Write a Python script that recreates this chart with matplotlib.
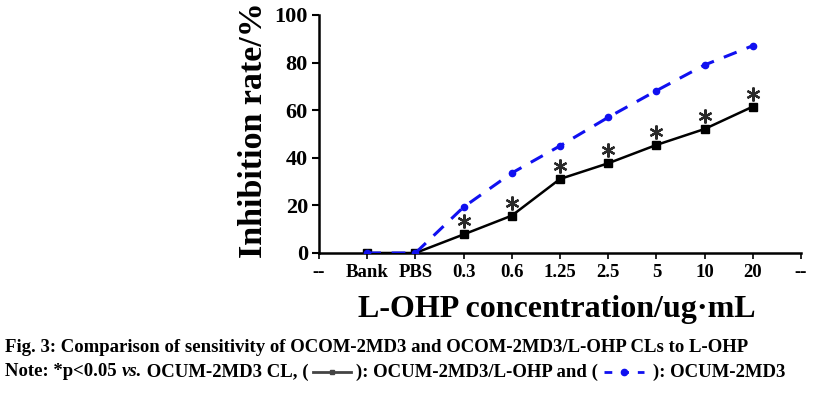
import matplotlib
matplotlib.use('Agg')
import matplotlib.pyplot as plt
from matplotlib.lines import Line2D

# categories along the x axis (first and last are the "--" end labels)
categories = ['--', 'Bank', 'PBS', '0.3', '0.6', '1.25', '2.5', '5', '10', '20', '--']
# inhibition rate (%) for Bank .. 20
combo_vals = [0, 0, 7.8, 15.7, 31.1, 37.7, 45.4, 52.1, 61.5]     # OCUM-2MD3/L-OHP
parent_vals = [0, 0, 19.3, 33.6, 45.0, 57.0, 68.2, 79.0, 87.1]    # OCUM-2MD3
star_from = 2  # asterisks start at 0.3

plt.rcParams['font.family'] = ['Liberation Serif', 'DejaVu Serif']
plt.rcParams['font.weight'] = 'bold'

W, H = 814, 393
fig = plt.figure(figsize=(W / 100, H / 100), dpi=100)
ax = fig.add_axes([319 / W, 1 - 253 / H, (801 - 319) / W, (253 - 15) / H])

xs = list(range(1, 1 + len(combo_vals)))
ax.plot(xs, combo_vals, color='black', lw=1.8, marker='s', ms=5.5, zorder=3)
ax.plot(xs, parent_vals, color='#1010f0', lw=2.2, ls=(0, (4.5, 3.5)),
        marker='o', ms=4.5, zorder=4)
# significance asterisks above the combo series
sx = xs[star_from:]
sy = [v + 5.5 for v in combo_vals[star_from:]]
ax.plot(sx, sy, ls='none', marker=(6, 2, 0), ms=10, mew=1.6, color='#2a2a2a',
        zorder=5, clip_on=False)

ax.set_xlim(0, len(categories) - 1)
ax.set_ylim(0, 100)
ax.set_xticks(range(len(categories)))
ax.set_xticklabels(categories)
ax.set_yticks(range(0, 101, 20))
for s in ('top', 'right'):
    ax.spines[s].set_visible(False)
for s in ('left', 'bottom'):
    ax.spines[s].set_linewidth(1.8)
ax.tick_params(axis='y', labelsize=16, width=1.5, length=5, pad=3)
ax.tick_params(axis='x', labelsize=13.5, width=1.2, length=4, pad=4)
for lab in ax.get_xticklabels() + ax.get_yticklabels():
    lab.set_fontweight('bold')

fig.text(254 / W, 1 - 130 / H, 'Inhibition rate/%', rotation=90,
         ha='center', va='center', fontsize=24.5, fontweight='bold')
fig.text(557 / W, 1 - 310 / H, 'L-OHP concentration/ug·mL',
         ha='center', va='center', fontsize=23, fontweight='bold')

# caption
cap_size = 13.5
fig.text(5 / W, 1 - 348 / H,
         'Fig. 3: Comparison of sensitivity of OCOM-2MD3 and OCOM-2MD3/L-OHP CLs to L-OHP',
         ha='left', va='center', fontsize=cap_size, fontweight='bold')

fig.canvas.draw()
renderer = fig.canvas.get_renderer()
y2 = 1 - 372 / H
cursor = 5  # pixels


def put(txt, style='normal'):
    global cursor
    t = fig.text(cursor / W, y2, txt, ha='left', va='center', fontsize=cap_size,
                 fontweight='bold', fontstyle=style)
    cursor = t.get_window_extent(renderer).x1


def sample(color, ls, marker, ms, pre, length, post):
    global cursor
    x0 = cursor + pre
    x1 = x0 + length
    fig.add_artist(Line2D([x0 / W, x1 / W], [y2, y2], color=color, ls=ls,
                          lw=2, transform=fig.transFigure))
    fig.add_artist(Line2D([(x0 + x1) / 2 / W], [y2], color=color, marker=marker,
                          ms=ms, mec=color, transform=fig.transFigure))
    cursor = x1 + post


put('Note: *p<0.05 ')
put('vs.', 'italic')
put(' OCUM-2MD3 CL, (')
sample('#444444', '-', 's', 3.5, 5, 38, 5)
put('): OCUM-2MD3/L-OHP and (')
sample('#1010f0', (0, (2.8, 3.2)), 'o', 4.5, 6, 40, 9)
put('): OCUM-2MD3')

fig.savefig('out.png', dpi=100)
